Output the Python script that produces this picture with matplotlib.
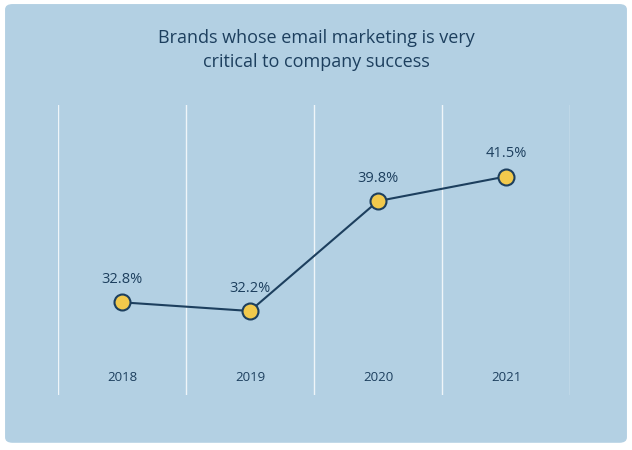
import matplotlib.pyplot as plt
from matplotlib.patches import FancyBboxPatch

years = ['2018', '2019', '2020', '2021']
values = [32.8, 32.2, 39.8, 41.5]
labels = ['32.8%', '32.2%', '39.8%', '41.5%']

navy = '#1d3f5e'
bg = '#b3d0e3'

fig = plt.figure(figsize=(6.32, 4.5), dpi=100)
fig.patch.set_facecolor('white')
box = FancyBboxPatch((0.008, 0.016), 0.984, 0.975, boxstyle='round,pad=0,rounding_size=0.012',
                     transform=fig.transFigure, facecolor=bg, edgecolor='none', zorder=-10)
fig.patches.append(box)

fig.text(0.5, 0.889, 'Brands whose email marketing is very\ncritical to company success',
         ha='center', va='center', fontsize=13, color=navy, linespacing=1.45,
         family='Open Sans')

ax = fig.add_axes([0.0918, 0.1222, 0.81, 0.644])
ax.set_facecolor('none')
ax.set_zorder(5)
x = list(range(len(years)))
ax.set_xlim(-0.5, 3.5)
ax.set_ylim(26.39, 46.43)
for v in [-0.5, 0.5, 1.5, 2.5, 3.5]:
    ax.axvline(v, color='white', lw=1, alpha=0.8)
ax.plot(x, values, color=navy, lw=1.5, marker='o', markersize=11.5,
        markerfacecolor='#f2c94c', markeredgecolor=navy, markeredgewidth=1.5, zorder=3)
for xi, v, lab in zip(x, values, labels):
    ax.text(xi, v + 1.05, lab, ha='center', va='bottom', fontsize=10.5, color=navy, family='Open Sans')
for xi, y in zip(x, years):
    ax.text(xi, 27.57, y, ha='center', va='center', fontsize=9.5, color=navy, family='Open Sans')
ax.axis('off')

fig.savefig('out.png', dpi=100)
